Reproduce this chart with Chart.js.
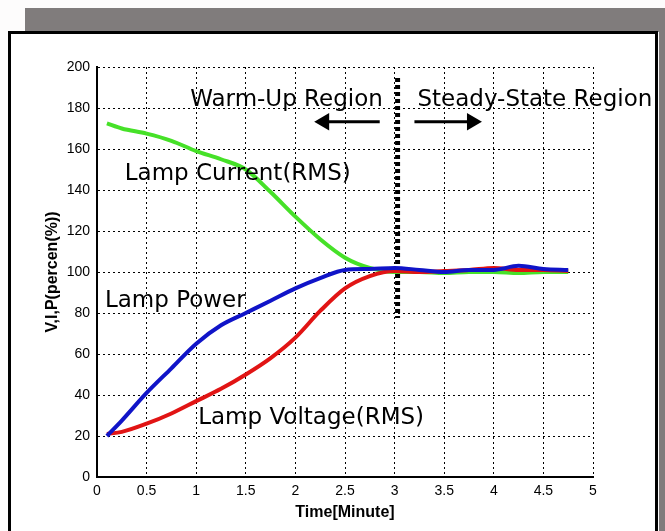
<!DOCTYPE html>
<html lang="en">
<head>
<meta charset="UTF-8">
<title>Lamp warm-up</title>
<script src="https://cdn.jsdelivr.net/npm/chart.js"></script>
<style>
  body { margin: 0; background: #fff; }
</style>
</head>
<body>
<canvas id="myChart" width="665" height="531"></canvas>
<script>
// time axis (minutes)
var time = [0.1, 0.25, 0.5, 0.75, 1.0, 1.25, 1.5, 1.75, 2.0, 2.25, 2.5, 2.75, 3.0, 3.25, 3.5, 3.75, 4.0, 4.25, 4.5, 4.75];
// percent values
var lampCurrent = [172.5, 170, 167.5, 164, 159, 155, 150, 139, 127, 116, 107, 102, 100, 100, 99.5, 100, 100, 99.5, 100, 100];
var lampPower   = [20, 27.5, 41, 53, 65, 74, 80, 86, 92, 97, 101, 101.5, 102, 101, 100, 101, 101, 103, 101.5, 101];
var lampVoltage = [21, 22, 26, 31, 37, 43, 50, 58, 68, 81, 92, 98, 100.5, 100, 100.5, 101, 102, 101, 101, 100.5];

// region divider and arrows
var dividerX = [3.03, 3.03];
var dividerY = [194.6, 77.6];
var leftArrowX = [2.85, 2.29];
var rightArrowX = [3.2, 3.78];
var arrowY = [173.3, 173.3];

// text labels on the plot
var noteText = ['Warm-Up Region', 'Steady-State Region', 'Lamp Current(RMS)', 'Lamp Power', 'Lamp Voltage(RMS)'];
var noteX = [0.94, 3.23, 0.28, 0.08, 1.02];
var noteY = [184, 184, 148, 86, 29];

function pts(xs, ys) {
  var out = [];
  for (let i = 0; i < xs.length; i++) out.push({x: xs[i], y: ys[i]});
  return out;
}

function curve(label, ys, color) {
  return {
    label: label,
    data: pts(time, ys),
    borderColor: color,
    borderWidth: 4,
    pointRadius: 0,
    cubicInterpolationMode: 'monotone',
    fill: false
  };
}

function arrow(xs, rot) {
  return {
    data: pts(xs, arrowY),
    borderColor: '#000',
    backgroundColor: '#000',
    borderWidth: 3,
    pointRadius: [0, 7],
    pointStyle: 'triangle',
    rotation: rot,
    fill: false
  };
}

const framePlugin = {
  id: 'frame',
  beforeDraw(chart) {
    const c = chart.ctx;
    c.save();
    c.fillStyle = '#fdfcfc';
    c.fillRect(0, 0, chart.width, chart.height);
    c.fillStyle = '#807c7c';
    c.fillRect(25, 8, 640, 24);
    c.fillRect(659, 8, 6, 523);
    c.fillStyle = '#fff';
    c.fillRect(10, 32, 647, 510);
    c.strokeStyle = '#000';
    c.lineWidth = 3;
    c.strokeRect(9.5, 32.5, 647, 510);
    c.restore();
  }
};

const notePlugin = {
  id: 'notes',
  afterDatasetsDraw(chart) {
    const c = chart.ctx;
    const xs = chart.scales.x, ys = chart.scales.y;
    c.save();
    c.font = '23px "DejaVu Sans"';
    c.fillStyle = '#000';
    c.textAlign = 'left';
    c.textBaseline = 'middle';
    for (let i = 0; i < noteText.length; i++) {
      c.fillText(noteText[i], xs.getPixelForValue(noteX[i]), ys.getPixelForValue(noteY[i]));
    }
    c.restore();
  }
};

const tickFont = {family: '"Liberation Sans", Arial', size: 14};
const titleFont = {family: '"Liberation Sans", Arial', size: 16, weight: 'bold'};

const config = {
  type: 'line',
  data: {
    datasets: [
      curve('Lamp Power', lampPower, 'rgb(16, 20, 200)'),
      curve('Lamp Voltage(RMS)', lampVoltage, 'rgb(225, 20, 20)'),
      curve('Lamp Current(RMS)', lampCurrent, 'rgb(70, 225, 40)'),
      {
        data: pts(dividerX, dividerY),
        borderColor: '#000',
        borderWidth: 5,
        borderDash: [4, 3],
        pointRadius: 0,
        fill: false
      },
      arrow(leftArrowX, 270),
      arrow(rightArrowX, 90)
    ]
  },
  options: {
    responsive: false,
    animation: false,
    layout: { padding: { left: 10, top: 67, right: 72, bottom: 0 } },
    plugins: { legend: { display: false }, tooltip: { enabled: false } },
    scales: {
      x: {
        type: 'linear',
        min: 0, max: 5,
        afterFit: function (s) { s.height = 54; },
        ticks: { stepSize: 0.5, padding: 6, color: '#000', font: tickFont, maxRotation: 0,
                 callback: function (v) { return String(v); } },
        grid: { color: '#000', lineWidth: 1, drawTicks: false },
        border: { color: '#000', width: 2, dash: [2, 3] },
        title: { display: true, text: 'Time[Minute]', color: '#000', font: titleFont, padding: { top: 0, bottom: 9 } }
      },
      y: {
        min: 0, max: 200,
        afterFit: function (s) { s.width = 87; },
        ticks: { stepSize: 20, padding: 7, color: '#000', font: tickFont },
        grid: { color: '#000', lineWidth: 1, drawTicks: false },
        border: { color: '#000', width: 2, dash: [2, 3] },
        title: { display: true, text: 'V,I,P(percen(%))', color: '#000', font: titleFont, padding: { top: 33, bottom: 0 } }
      }
    }
  },
  plugins: [framePlugin, notePlugin]
};

let mixedChart = new Chart(document.getElementById('myChart'), config);
</script>
</body>
</html>
